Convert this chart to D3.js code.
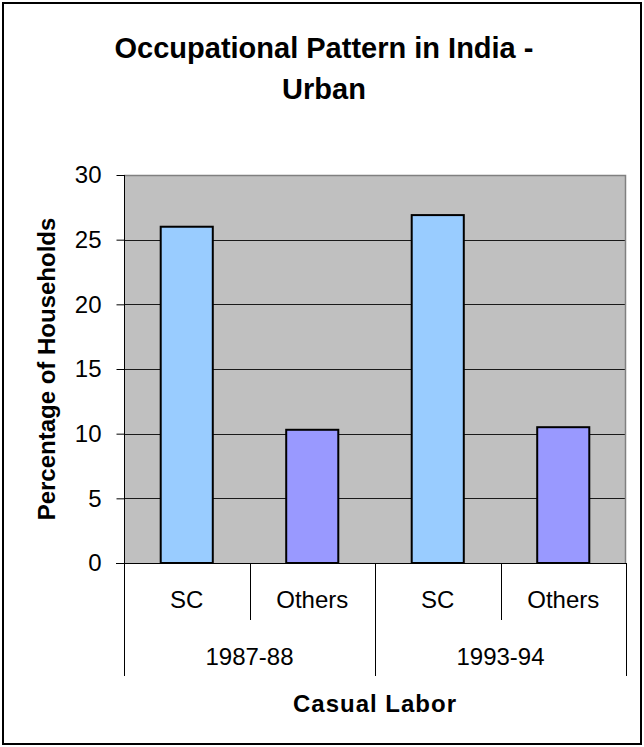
<!DOCTYPE html>
<html>
<head>
<meta charset="utf-8">
<script src="https://cdn.jsdelivr.net/npm/d3@7"></script>
<style>
  html, body { margin: 0; padding: 0; background: #fff; }
  svg { display: block; font-family: Arial, "Liberation Sans", sans-serif; }
</style>
</head>
<body>
<svg id="chart" width="644" height="747"></svg>
<script>
// Occupational pattern, urban casual labour households
const periods = ["1987-88", "1993-94"];
const groups = ["SC", "Others"];
const shares = [26.0, 10.3, 26.9, 10.5];   // % of households, period-major order
const yTicks = [0, 5, 10, 15, 20, 25, 30];
const groupColors = ["#99CCFF", "#9999FF"];

const rows = [];
periods.forEach((p, i) => groups.forEach((g, j) => {
  rows.push({ key: p + "|" + g, period: p, group: g, gi: j, value: shares[i * groups.length + j] });
}));

const svg = d3.select("#chart");
const W = 644, H = 747;
const plot = { left: 124, right: 626, top: 175, bottom: 563 };

// outer frame
svg.append("rect")
  .attr("x", 3).attr("y", 3).attr("width", W - 6).attr("height", H - 6)
  .attr("fill", "#fff").attr("stroke", "#000").attr("stroke-width", 2);

const x = d3.scaleBand().domain(rows.map(d => d.key))
  .range([plot.left, plot.right]).padding(0);
const xPeriod = d3.scaleBand().domain(periods)
  .range([plot.left, plot.right]).padding(0);
const y = d3.scaleLinear().domain([0, 30]).range([plot.bottom, plot.top]);

// plot area
svg.append("rect")
  .attr("x", plot.left).attr("y", plot.top)
  .attr("width", plot.right - plot.left).attr("height", plot.bottom - plot.top)
  .attr("fill", "#C0C0C0");

// gridlines
svg.append("g").selectAll("line")
  .data(yTicks.filter(t => t > 0 && t < 30))
  .join("line")
  .attr("x1", plot.left).attr("x2", plot.right)
  .attr("y1", d => Math.round(y(d)) + 0.5).attr("y2", d => Math.round(y(d)) + 0.5)
  .attr("stroke", "#1a1a1a").attr("stroke-width", 1);

// plot border (top and right)
svg.append("path")
  .attr("d", `M${plot.left},${Math.round(plot.top) + 0.5}H${plot.right - 0.5}V${plot.bottom}`)
  .attr("fill", "none").attr("stroke", "#808080").attr("stroke-width", 1.5);

// bars
const barW = x.bandwidth() * 0.415;
svg.append("g").selectAll("rect")
  .data(rows)
  .join("rect")
  .attr("x", d => x(d.key) + (x.bandwidth() - barW) / 2)
  .attr("y", d => y(d.value))
  .attr("width", barW)
  .attr("height", d => y(0) - y(d.value))
  .attr("fill", d => groupColors[d.gi])
  .attr("stroke", "#000").attr("stroke-width", 2);

// y axis
const yAxis = d3.axisLeft(y).tickValues(yTicks).tickSize(8).tickPadding(15)
  .tickFormat(d3.format("d"));
const gy = svg.append("g").attr("transform", `translate(${plot.left + 0.5},0)`).call(yAxis);
gy.select(".domain").attr("stroke", "#000").attr("d", `M0,${plot.top}V${plot.bottom}`);
gy.selectAll(".tick line").attr("stroke", "#000");
gy.selectAll(".tick text").attr("font-size", 24).attr("fill", "#000")
  .attr("font-family", "Arial, 'Liberation Sans', sans-serif");

// x axis baseline
svg.append("line")
  .attr("x1", plot.left - 8).attr("x2", plot.right)
  .attr("y1", Math.round(plot.bottom) + 0.5).attr("y2", Math.round(plot.bottom) + 0.5)
  .attr("stroke", "#000");

// category dividers: short ones between groups, long ones between periods
const boundaries = rows.map(d => x(d.key)).concat([plot.right]);
svg.append("g").selectAll("line")
  .data(boundaries)
  .join("line")
  .attr("x1", d => Math.round(d) + 0.5).attr("x2", d => Math.round(d) + 0.5)
  .attr("y1", plot.bottom)
  .attr("y2", (d, i) => (i % groups.length === 0 ? 676 : 620))
  .attr("stroke", "#000");

// group labels
svg.append("g").selectAll("text")
  .data(rows)
  .join("text")
  .attr("x", d => x(d.key) + x.bandwidth() / 2)
  .attr("y", 608)
  .attr("text-anchor", "middle")
  .attr("font-size", 24)
  .text(d => d.group);

// period labels
svg.append("g").selectAll("text")
  .data(periods)
  .join("text")
  .attr("x", d => xPeriod(d) + xPeriod.bandwidth() / 2)
  .attr("y", 665)
  .attr("text-anchor", "middle")
  .attr("font-size", 24)
  .text(d => d);

// axis titles
svg.append("text")
  .attr("x", (plot.left + plot.right) / 2).attr("y", 712)
  .attr("text-anchor", "middle")
  .attr("font-size", 24).attr("font-weight", "bold")
  .attr("letter-spacing", 1)
  .text("Casual Labor");

svg.append("text")
  .attr("transform", `translate(55,${(plot.top + plot.bottom) / 2 - 0}) rotate(-90)`)
  .attr("text-anchor", "middle")
  .attr("font-size", 24).attr("font-weight", "bold")
  .text("Percentage of Households");

// chart title
const title = svg.append("text")
  .attr("text-anchor", "middle")
  .attr("font-size", 29).attr("font-weight", "bold");
title.append("tspan").attr("x", W / 2 + 2).attr("y", 58).text("Occupational Pattern in India -");
title.append("tspan").attr("x", W / 2 + 2).attr("y", 99).text("Urban");
</script>
</body>
</html>
